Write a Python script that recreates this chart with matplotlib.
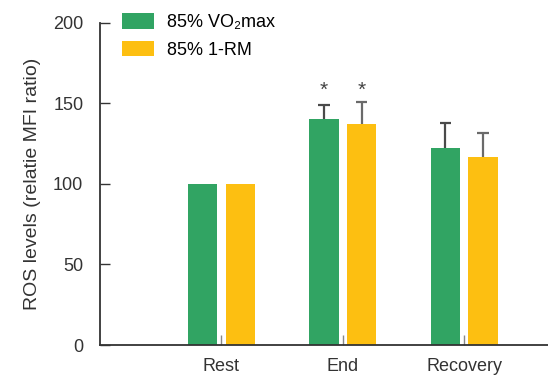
import numpy as np
import matplotlib
matplotlib.use("Agg")
import matplotlib.pyplot as plt

plt.rcParams['font.family'] = ['Liberation Sans', 'DejaVu Sans']

categories = ["Rest", "End", "Recovery"]
vo2_vals = [100, 140, 122]
vo2_err = [0, 9, 16]
rm_vals = [100, 137, 116.5]
rm_err = [0, 14, 15]
signif = [False, True, False]

green = "#31a463"
yellow = "#fdbf11"

fig = plt.figure(figsize=(5.48, 3.8), dpi=100)
ax = fig.add_axes([0.1825, 0.092, 0.8175, 0.848])

x = np.arange(1, len(categories) + 1)
w = 0.24
off = 0.155
cap = 0.048
ax.bar(x - off, vo2_vals, w, color=green, label="85% VO\u2082max", zorder=2)
ax.bar(x + off, rm_vals, w, color=yellow, label="85% 1-RM", zorder=2)

# upper error bars only
for xs, vals, errs, c in [(x - off, vo2_vals, vo2_err, "#4a4a4a"), (x + off, rm_vals, rm_err, "#6a6a6a")]:
    for xi, v, e in zip(xs, vals, errs):
        if e > 0:
            ax.vlines(xi, v, v + e, color=c, lw=1.6, zorder=3)
            ax.hlines(v + e, xi - cap, xi + cap, color=c, lw=1.6, zorder=3)

for i, s in enumerate(signif):
    if s:
        for xi in (x[i] - off, x[i] + off):
            ax.text(xi, 158, "*", ha="center", va="center", fontsize=15, color="#444444")

ax.set_xlim(0, 3.69)
ax.set_ylim(0, 200)
ax.set_yticks([0, 50, 100, 150, 200])
ax.set_xticks(x)
ax.set_xticklabels(categories)
ax.tick_params(axis="y", direction="in", length=7, width=1, labelsize=13, pad=12, colors="#333333")
ax.tick_params(axis="x", direction="in", length=7, width=1, labelsize=13, pad=9, color="#888888", labelcolor="#333333")
for sp in ["top", "right"]:
    ax.spines[sp].set_visible(False)
for sp in ["left", "bottom"]:
    ax.spines[sp].set_color("#333333")
    ax.spines[sp].set_linewidth(1.3)
ax.set_ylabel("ROS levels (relatie MFI ratio)", fontsize=14, color="#333333", labelpad=9)

ax.legend(loc="upper left", bbox_to_anchor=(122 / 548, 1 - 13 / 380), bbox_transform=fig.transFigure,
          frameon=False, fontsize=13, borderpad=0, borderaxespad=0,
          handlelength=1.75, handleheight=0.95, handletextpad=0.75, labelspacing=0.55)

fig.savefig("out.png", dpi=100)
